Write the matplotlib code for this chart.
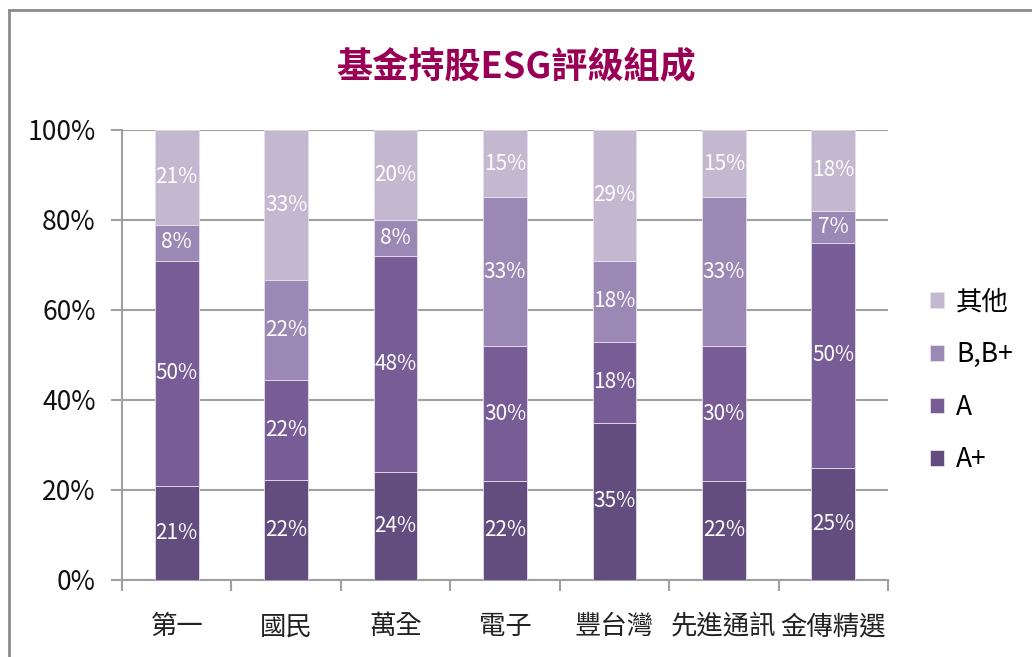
import numpy as np
import matplotlib.pyplot as plt
from matplotlib.lines import Line2D

plt.rcParams["font.family"] = ["Noto Sans CJK TC", "DejaVu Sans"]

funds = ["第一", "國民", "萬全", "電子", "豐台灣", "先進通訊", "金傳精選"]
a_plus = [21, 22, 24, 22, 35, 22, 25]
a = [50, 22, 48, 30, 18, 30, 50]
b = [8, 22, 8, 33, 18, 33, 7]
other = [21, 33, 20, 15, 29, 15, 18]

series = [("A+", a_plus, "#634d7e"), ("A", a, "#775c96"),
          ("B,B+", b, "#9c88b5"), ("其他", other, "#c4b8d1")]

totals = np.array(a_plus) + np.array(a) + np.array(b) + np.array(other)

fig = plt.figure(figsize=(10.32, 6.57), dpi=100)
ax = fig.add_axes([122 / 1032, 1 - 580 / 657, 766 / 1032, 450 / 657])

x = np.arange(len(funds))
bottom = np.zeros(len(funds))
handles = []
for name, vals, col in series:
    frac = np.array(vals) / totals
    bars = ax.bar(x, frac, 0.4, bottom=bottom, color=col, edgecolor="#e6e0ec",
                  linewidth=0.6, zorder=3, label=name)
    for xi, bi, fi, v in zip(x, bottom, frac, vals):
        ax.text(xi, bi + fi / 2, f"{v}%", ha="center", va="center",
                color="white", fontsize=15, zorder=4)
    bottom += frac
    handles.append(bars)

ax.set_xlim(-0.5, len(funds) - 0.5)
ax.set_ylim(0, 1)
ax.set_yticks(np.arange(0, 1.01, 0.2))
ax.set_yticklabels([f"{int(round(t * 100))}%" for t in np.arange(0, 1.01, 0.2)],
                   fontsize=19, color="#111111")
ax.yaxis.grid(True, color="#a0a0a0", linewidth=1.5, zorder=0)
ax.set_xticks(x)
ax.set_xticklabels(funds, fontsize=19, color="#222222")
ax.set_xticks(np.arange(-0.5, len(funds)), minor=True)
ax.tick_params(axis="x", which="major", length=0, pad=24)
ax.tick_params(axis="x", which="minor", length=8, width=1.5, color="#a0a0a0")
ax.tick_params(axis="y", length=8, width=1.5, color="#a0a0a0", pad=11)
for s in ["top", "right"]:
    ax.spines[s].set_visible(False)
for s in ["left", "bottom"]:
    ax.spines[s].set_color("#a0a0a0")
    ax.spines[s].set_linewidth(1.5)

leg = fig.legend(handles[::-1], [s[0] for s in series][::-1],
                 loc="center left", bbox_to_anchor=(906 / 1032, 1 - 381 / 657),
                 frameon=False, fontsize=19, handlelength=0.55, handleheight=0.55,
                 labelspacing=0.97, handletextpad=0.45)

fig.text(0.5, 1 - 67 / 657, "基金持股ESG評級組成", ha="center", va="center",
         fontsize=26, fontweight="bold", color="#990055")

# outer frame
fig.add_artist(Line2D([9 / 1032, 9 / 1032], [0, 1 - 10 / 657],
                      transform=fig.transFigure, color="#8c8c8c", linewidth=2))
fig.add_artist(Line2D([9 / 1032, 1], [1 - 10 / 657, 1 - 10 / 657],
                      transform=fig.transFigure, color="#8c8c8c", linewidth=2))

fig.savefig("out.png", dpi=100)
